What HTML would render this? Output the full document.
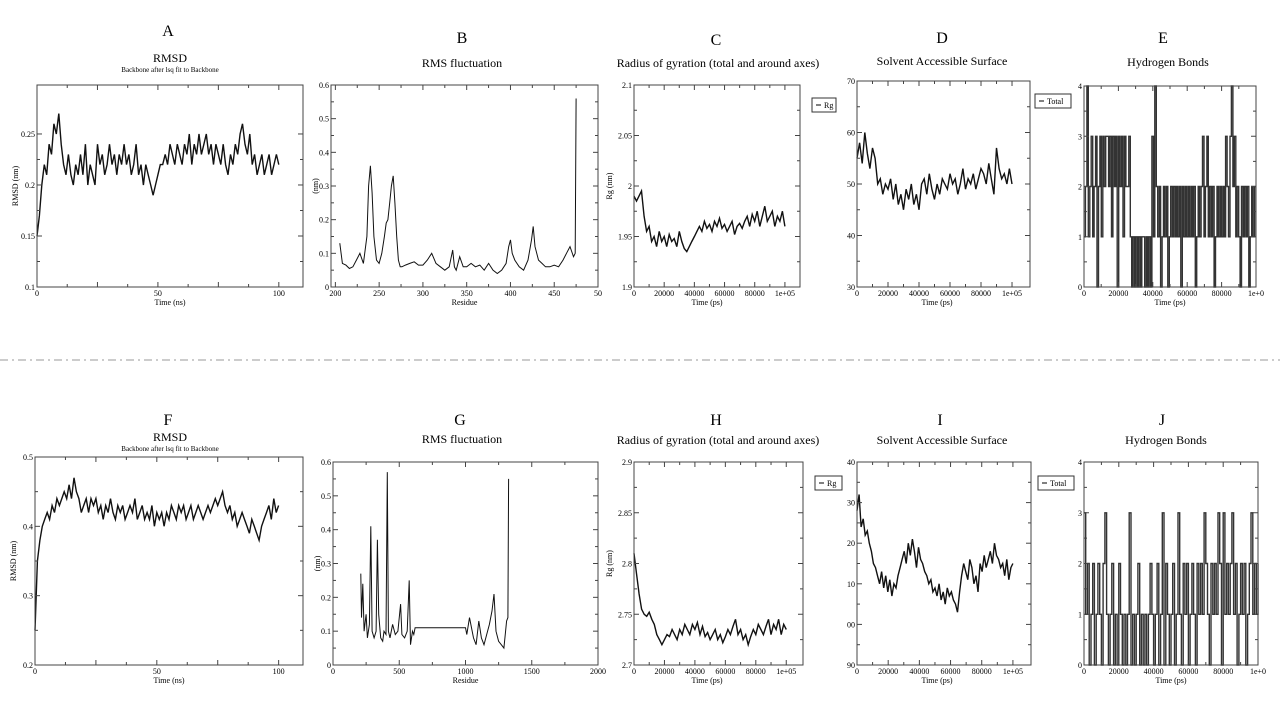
<!DOCTYPE html>
<html><head><meta charset="utf-8"><style>
html,body{margin:0;padding:0;background:#fff;width:1280px;height:720px;overflow:hidden}
svg{display:block}
text{font-family:"Liberation Serif",serif;fill:#000}
</style></head><body>
<svg id="fig" width="1280" height="720" viewBox="0 0 1280 720">
<line x1="0" y1="360" x2="1280" y2="360" stroke="#999" stroke-width="1" stroke-dasharray="8,4,2,4"/>
</svg>
<script>
// ---- data ----
const aRmsd=[0.15,0.17,0.20,0.22,0.21,0.24,0.23,0.26,0.25,0.27,0.24,0.22,0.21,0.23,0.21,0.20,0.22,0.21,0.23,0.21,0.24,0.20,0.22,0.21,0.20,0.24,0.22,0.23,0.21,0.22,0.24,0.22,0.23,0.21,0.23,0.22,0.24,0.22,0.23,0.21,0.22,0.24,0.21,0.22,0.20,0.22,0.21,0.20,0.19,0.20,0.21,0.22,0.22,0.23,0.22,0.24,0.23,0.22,0.24,0.23,0.22,0.24,0.23,0.25,0.22,0.24,0.23,0.25,0.23,0.24,0.25,0.23,0.24,0.22,0.24,0.23,0.22,0.24,0.22,0.21,0.23,0.22,0.24,0.23,0.25,0.26,0.24,0.23,0.25,0.22,0.23,0.21,0.22,0.23,0.21,0.22,0.23,0.21,0.22,0.23,0.22];
const bRmsf=[[205,0.13],[208,0.07],[212,0.065],[216,0.055],[220,0.06],[224,0.08],[228,0.1],[232,0.07],[236,0.15],[238,0.3],[240,0.36],[242,0.28],[244,0.15],[247,0.08],[250,0.07],[253,0.1],[256,0.15],[258,0.19],[260,0.2],[262,0.25],[264,0.3],[266,0.33],[268,0.25],[270,0.15],[272,0.08],[274,0.06],[276,0.06],[280,0.065],[285,0.07],[290,0.075],[295,0.065],[300,0.065],[305,0.08],[310,0.1],[315,0.07],[320,0.06],[325,0.05],[330,0.06],[334,0.11],[336,0.06],[338,0.05],[342,0.09],[346,0.06],[350,0.06],[355,0.07],[360,0.06],[365,0.065],[370,0.05],[375,0.07],[380,0.05],[385,0.04],[390,0.05],[395,0.07],[398,0.12],[400,0.14],[402,0.1],[405,0.08],[410,0.06],[415,0.05],[420,0.08],[424,0.14],[426,0.18],[428,0.12],[432,0.08],[436,0.07],[440,0.06],[445,0.06],[450,0.065],[455,0.06],[460,0.08],[464,0.1],[468,0.12],[472,0.09],[474,0.1],[475,0.56]];
const cRg=[1.99,1.985,1.99,1.995,1.97,1.955,1.96,1.945,1.95,1.94,1.955,1.945,1.95,1.94,1.952,1.945,1.948,1.94,1.955,1.945,1.938,1.935,1.94,1.945,1.95,1.955,1.96,1.955,1.965,1.958,1.962,1.955,1.965,1.96,1.968,1.958,1.962,1.955,1.96,1.965,1.952,1.96,1.963,1.958,1.965,1.97,1.96,1.972,1.965,1.975,1.96,1.97,1.98,1.965,1.97,1.975,1.96,1.97,1.965,1.975,1.96];
const dSasa=[55,58,54,60,56,53,57,55,50,51,48,50,49,51,47,50,46,48,45,49,47,50,46,48,45,50,51,48,52,49,47,50,48,51,50,49,52,50,51,48,50,53,49,51,50,52,49,51,53,52,50,54,51,48,57,53,51,52,50,53,50];
const eHb=[1,2,4,1,2,3,1,2,3,0,2,3,1,3,2,3,3,2,3,1,3,2,3,0,3,2,3,1,3,2,2,3,1,0,1,0,1,0,1,0,1,1,0,1,0,1,0,3,1,4,2,1,2,0,1,2,1,2,0,1,2,1,2,1,2,1,2,0,2,1,2,1,2,1,2,1,2,0,1,2,1,2,3,1,2,3,1,2,1,2,0,1,2,1,2,1,2,1,3,2,1,3,4,2,3,1,2,1,0,2,1,2,1,2,0,1,2,1,2,2];
const fRmsd=[0.25,0.35,0.38,0.40,0.41,0.42,0.41,0.43,0.42,0.44,0.43,0.44,0.45,0.44,0.46,0.44,0.47,0.45,0.44,0.42,0.43,0.44,0.42,0.44,0.43,0.44,0.42,0.43,0.41,0.43,0.42,0.44,0.42,0.41,0.43,0.42,0.43,0.41,0.42,0.43,0.42,0.44,0.41,0.42,0.43,0.41,0.42,0.41,0.43,0.40,0.42,0.41,0.42,0.40,0.42,0.41,0.43,0.42,0.41,0.43,0.42,0.43,0.41,0.42,0.43,0.41,0.42,0.43,0.42,0.41,0.42,0.43,0.42,0.43,0.44,0.43,0.44,0.45,0.43,0.42,0.43,0.41,0.42,0.40,0.41,0.42,0.41,0.40,0.39,0.41,0.40,0.39,0.38,0.40,0.41,0.42,0.43,0.41,0.44,0.42,0.43];
const gRmsf=[[210,0.27],[215,0.14],[225,0.24],[235,0.1],[250,0.15],[260,0.08],[275,0.12],[285,0.41],[295,0.1],[310,0.08],[325,0.1],[335,0.37],[345,0.15],[360,0.08],[375,0.07],[385,0.1],[400,0.09],[410,0.57],[418,0.1],[430,0.08],[450,0.12],[470,0.09],[490,0.1],[510,0.18],[520,0.09],[540,0.08],[560,0.1],[575,0.25],[585,0.06],[600,0.1],[610,0.09],[620,0.11],[800,0.11],[1000,0.11],[1010,0.09],[1030,0.14],[1060,0.08],[1080,0.06],[1100,0.13],[1120,0.08],[1140,0.06],[1160,0.09],[1180,0.12],[1200,0.16],[1215,0.21],[1230,0.1],[1250,0.07],[1270,0.06],[1290,0.05],[1310,0.13],[1320,0.14],[1325,0.55]];
const hRg=[2.81,2.79,2.77,2.755,2.75,2.748,2.752,2.745,2.74,2.73,2.725,2.72,2.725,2.73,2.728,2.735,2.73,2.725,2.735,2.73,2.74,2.735,2.73,2.74,2.735,2.742,2.73,2.738,2.728,2.732,2.725,2.73,2.735,2.725,2.73,2.722,2.728,2.735,2.73,2.738,2.745,2.73,2.735,2.725,2.73,2.72,2.728,2.735,2.73,2.74,2.735,2.73,2.738,2.745,2.73,2.74,2.735,2.745,2.73,2.74,2.735];
const iSasa=[28,32,24,26,22,23,20,18,15,14,12,10,13,9,12,8,11,7,10,9,12,14,16,18,15,20,17,21,18,14,19,16,15,13,12,10,11,8,9,7,10,6,8,5,9,7,8,6,5,3,8,12,15,13,11,16,14,10,12,8,15,13,17,14,16,18,15,20,17,16,14,15,12,16,11,14,15];
const jHb=[3,1,2,0,1,2,0,1,2,1,0,2,3,1,0,1,2,0,1,0,2,1,0,1,0,1,3,0,1,0,1,2,0,1,0,1,0,1,2,1,0,1,2,0,1,3,0,2,1,0,1,2,0,1,3,1,0,2,1,2,0,1,2,1,0,2,1,2,1,3,2,1,0,2,1,2,1,3,2,0,3,1,2,1,2,3,1,2,0,1,2,1,2,0,1,2,3,1,2,1,2];
const nsTicks=[0,50,100], nsLabels=["0","50","100"];
const psTicks=[0,20000,40000,60000,80000,100000], psLabels=["0","20000","40000","60000","80000","1e+05"];
const psLabelsCut=["0","20000","40000","60000","80000","1e+0"];
const resTicksB=[200,250,300,350,400,450,500], resLabelsB=["200","250","300","350","400","450","50"];
const resTicksG=[0,500,1000,1500,2000], resLabelsG=["0","500","1000","1500","2000"];
const hbTicks=[0,1,2,3,4], hbLabels=["0","1","2","3","4"];
const iTicks=[-10,0,10,20,30,40], iLabels=["90","00","10","20","30","40"];

const NS='http://www.w3.org/2000/svg';
const svg=document.getElementById('fig');
function mk(tag,attrs,parent){const e=document.createElementNS(NS,tag);for(const k in attrs)e.setAttribute(k,attrs[k]);(parent||svg).appendChild(e);return e;}
function txt(s,x,y,size,anchor,parent,rot){const t=mk('text',{x:x,y:y,'font-size':size,'text-anchor':anchor||'middle'},parent);if(rot)t.setAttribute('transform','rotate(-90 '+x+' '+y+')');t.textContent=s;return t;}

function panel(p){
  const g=mk('g',{});
  
  
  const L=p.f[0],T=p.f[1],W=p.f[2],H=p.f[3];
  const sx=v=>L+(v-p.x[0])/(p.x[1]-p.x[0])*W;
  const sy=v=>T+H-(v-p.y[0])/(p.y[1]-p.y[0])*H;
  let pts=[];
  if(p.pairs){pts=p.pairs.map(d=>[sx(d[0]),sy(d[1])]);}
  else{const n=p.vals.length;p.vals.forEach((v,i)=>{const xv=p.xr[0]+(p.xr[1]-p.xr[0])*i/(n-1);
    if(p.step&&i>0){pts.push([sx(xv),sy(p.vals[i-1])]);}
    pts.push([sx(xv),sy(v)]);});}
  const line=mk('polyline',{points:pts.map(q=>q[0].toFixed(1)+','+q[1].toFixed(1)).join(' '),fill:'none',stroke:p.step?'#333':'#111','stroke-width':p.sw||1},g);
  
  
  const fr=mk('rect',{x:L,y:T,width:W,height:H,fill:'none',stroke:'#444','stroke-width':1},g);
  
  
  const xt=p.xt,yt=p.yt;
  xt.forEach((v,i)=>{const X=sx(v);if(X>L+W+1)return;
    mk('line',{x1:X,y1:T+H,x2:X,y2:T+H-5,stroke:'#444'},g);mk('line',{x1:X,y1:T,x2:X,y2:T+5,stroke:'#444'},g);
    const lb=txt(p.xl[i],X,T+H+9,8,'middle',g);
    
    
    if(i<xt.length-1){const m=sx((v+xt[i+1])/2);if(m<L+W){mk('line',{x1:m,y1:T+H,x2:m,y2:T+H-3,stroke:'#444'},g);mk('line',{x1:m,y1:T,x2:m,y2:T+3,stroke:'#444'},g);}}
  });
  yt.forEach((v,i)=>{const Y=sy(v);
    mk('line',{x1:L,y1:Y,x2:L+5,y2:Y,stroke:'#444'},g);mk('line',{x1:L+W,y1:Y,x2:L+W-5,y2:Y,stroke:'#444'},g);
    const lb=txt(p.yl[i],L-2,Y+3,8,'end',g);
    
    
    if(i<yt.length-1){const m=sy((v+yt[i+1])/2);mk('line',{x1:L,y1:m,x2:L+3,y2:m,stroke:'#444'},g);mk('line',{x1:L+W,y1:m,x2:L+W-3,y2:m,stroke:'#444'},g);}
  });
  const xa=txt(p.xlab,L+(p.xlabX||W/2),T+H+18,8,'middle',g);
  
  
  if(p.ylab){const ya=txt(p.ylab,p.ylabX,T+H/2,8,'middle',g,true);
    
    }
  const tt=txt(p.title,p.tx,p.ty,12,'middle',g);
  
  
  if(p.sub){const st=txt(p.sub,p.tx,p.ty+10,7,'middle',g);
    
    }
  const lt=txt(p.letter,p.lx,p.ly,16,'middle',g);
  
  
  if(p.leg){const lg=mk('g',{},g);
    
    
    mk('rect',{x:p.leg[0],y:p.leg[1],width:p.leg[2],height:14,fill:'#fff',stroke:'#333'},lg);
    mk('line',{x1:p.leg[0]+4,y1:p.leg[1]+7,x2:p.leg[0]+9,y2:p.leg[1]+7,stroke:'#000'},lg);
    txt(p.leg[3],p.leg[0]+12,p.leg[1]+10,8,'start',lg);}
}
const yA=[0.1,0.15,0.2,0.25], yAl=["0.1","0.15","0.2","0.25"];
const y06=[0,0.1,0.2,0.3,0.4,0.5,0.6], y06l=["0","0.1","0.2","0.3","0.4","0.5","0.6"];
panel({name:'panel-a-rmsd',f:[37,85,266,202],x:[0,110],y:[0.1,0.298],vals:aRmsd,xr:[0,100],xt:[0,25,50,75,100,125],xl:["0","","50","","100",""],yt:yA,yl:yAl,xlab:'Time (ns)',ylab:'RMSD (nm)',ylabX:18,title:'RMSD',sub:'Backbone after lsq fit to Backbone',tx:170,ty:62,letter:'A',lx:168,ly:36,sw:1.4});
panel({name:'panel-b-rmsf',f:[331,85,267,202],x:[195,500],y:[0,0.6],pairs:bRmsf,xt:resTicksB,xl:resLabelsB,yt:y06,yl:y06l,xlab:'Residue',ylab:'(nm)',ylabX:318,title:'RMS fluctuation',tx:462,ty:67,letter:'B',lx:462,ly:43});
panel({name:'panel-c-rg',f:[634,85,166,202],x:[0,110000],y:[1.9,2.1],vals:cRg,xr:[0,100000],xt:psTicks,xl:psLabels,yt:[1.9,1.95,2,2.05,2.1],yl:["1.9","1.95","2","2.05","2.1"],xlab:'Time (ps)',xlabX:73,ylab:'Rg (nm)',ylabX:612,title:'Radius of gyration (total and around axes)',tx:718,ty:67,letter:'C',lx:716,ly:45,leg:[812,98,24,'Rg'],sw:1.4});
panel({name:'panel-d-sasa',f:[857,81,173,206],x:[0,111600],y:[30,70],vals:dSasa,xr:[0,100000],xt:psTicks,xl:psLabels,yt:[30,40,50,60,70],yl:["30","40","50","60","70"],xlab:'Time (ps)',xlabX:80,title:'Solvent Accessible Surface',tx:942,ty:65,letter:'D',lx:942,ly:43,leg:[1035,94,36,'Total'],sw:1.4});
panel({name:'panel-e-hbonds',f:[1084,86,172,201],x:[0,100000],y:[0,4],vals:eHb,xr:[0,100000],step:true,xt:psTicks,xl:psLabelsCut,yt:hbTicks,yl:hbLabels,xlab:'Time (ps)',title:'Hydrogen Bonds',tx:1168,ty:66,letter:'E',lx:1163,ly:43,sw:1.4});
panel({name:'panel-f-rmsd',f:[35,457,268,208],x:[0,110],y:[0.2,0.5],vals:fRmsd,xr:[0,100],xt:[0,25,50,75,100,125],xl:["0","","50","","100",""],yt:[0.2,0.3,0.4,0.5],yl:["0.2","0.3","0.4","0.5"],xlab:'Time (ns)',ylab:'RMSD (nm)',ylabX:16,title:'RMSD',sub:'Backbone after lsq fit to Backbone',tx:170,ty:441,letter:'F',lx:168,ly:425,sw:1.4});
panel({name:'panel-g-rmsf',f:[333,462,265,203],x:[0,2000],y:[0,0.6],pairs:gRmsf,xt:resTicksG,xl:resLabelsG,yt:y06,yl:y06l,xlab:'Residue',ylab:'(nm)',ylabX:320,title:'RMS fluctuation',tx:462,ty:443,letter:'G',lx:460,ly:425});
panel({name:'panel-h-rg',f:[634,462,169,203],x:[0,111000],y:[2.7,2.9],vals:hRg,xr:[0,100000],xt:psTicks,xl:psLabels,yt:[2.7,2.75,2.8,2.85,2.9],yl:["2.7","2.75","2.8","2.85","2.9"],xlab:'Time (ps)',xlabX:73,ylab:'Rg (nm)',ylabX:612,title:'Radius of gyration (total and around axes)',tx:718,ty:444,letter:'H',lx:716,ly:425,leg:[815,476,27,'Rg'],sw:1.4});
panel({name:'panel-i-sasa',f:[857,462,174,203],x:[0,111600],y:[-10,40],vals:iSasa,xr:[0,100000],xt:psTicks,xl:psLabels,yt:iTicks,yl:iLabels,xlab:'Time (ps)',xlabX:80,title:'Solvent Accessible Surface',tx:942,ty:444,letter:'I',lx:940,ly:425,leg:[1038,476,36,'Total'],sw:1.4});
panel({name:'panel-j-hbonds',f:[1084,462,174,203],x:[0,100000],y:[0,4],vals:jHb,xr:[0,100000],step:true,xt:psTicks,xl:psLabelsCut,yt:hbTicks,yl:hbLabels,xlab:'Time (ps)',title:'Hydrogen Bonds',tx:1166,ty:444,letter:'J',lx:1162,ly:425,sw:1.4});
</script>
</body></html>
